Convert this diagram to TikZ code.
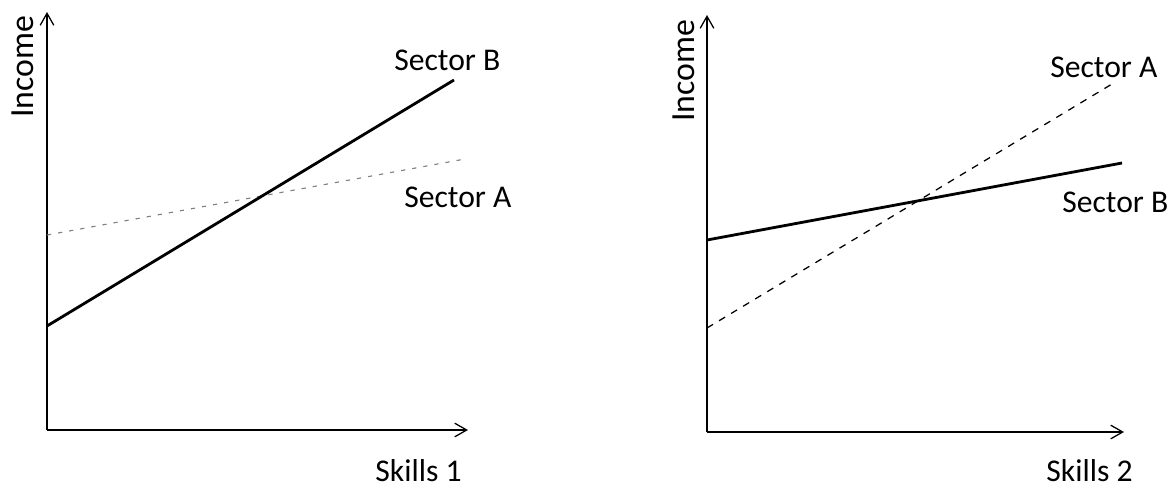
\documentclass[tikz,border=0pt]{standalone}
\usepackage{fontspec}
\setmainfont{Carlito}
\usetikzlibrary{arrows.meta}
\begin{document}
\begin{tikzpicture}[x=0.025cm,y=-0.025cm,
  axis/.style={line width=1.2pt,-{Straight Barb[length=0.3cm,width=0.34cm,line width=0.9pt]}},
  lab/.style={inner sep=0pt,font=\fontsize{22.5}{26}\selectfont},
  ylab/.style={inner sep=0pt,rotate=90,anchor=base west,font=\fontsize{24}{28}\selectfont}]
\useasboundingbox (0,0) rectangle (1169,487);

% skills 1
\draw[axis] (47,430) -- (47,12);
\draw[axis] (47,430) -- (468,430);
\node[ylab] (inc1) at (33,118) {Income};
\node[lab,anchor=base east] (sk1) at (462,481) {Skills 1};

\draw[gray,line width=0.8pt,dash pattern=on 3pt off 5pt] (47,235) -- (465,159);
\draw[line width=2pt] (47,326) -- (454,80);
\node[lab,anchor=base west] (secB1) at (394,70) {Sector B};
\node[lab,anchor=base west] (secA1) at (404,207) {Sector A};

% skills 2
\draw[axis] (707,432) -- (707,15);
\draw[axis] (707,432) -- (1124,432);
\node[ylab] (inc2) at (694,122) {Income};
\node[lab,anchor=base east] (sk2) at (1133,481) {Skills 2};

\draw[line width=0.9pt,dash pattern=on 5pt off 5pt] (707,328) -- (1112,84);
\draw[line width=2pt] (707,240) -- (1122,163);
\node[lab,anchor=base west] (secA2) at (1050,77) {Sector A};
\node[lab,anchor=base west] (secB2) at (1062,212) {Sector B};

\end{tikzpicture}
\end{document}
